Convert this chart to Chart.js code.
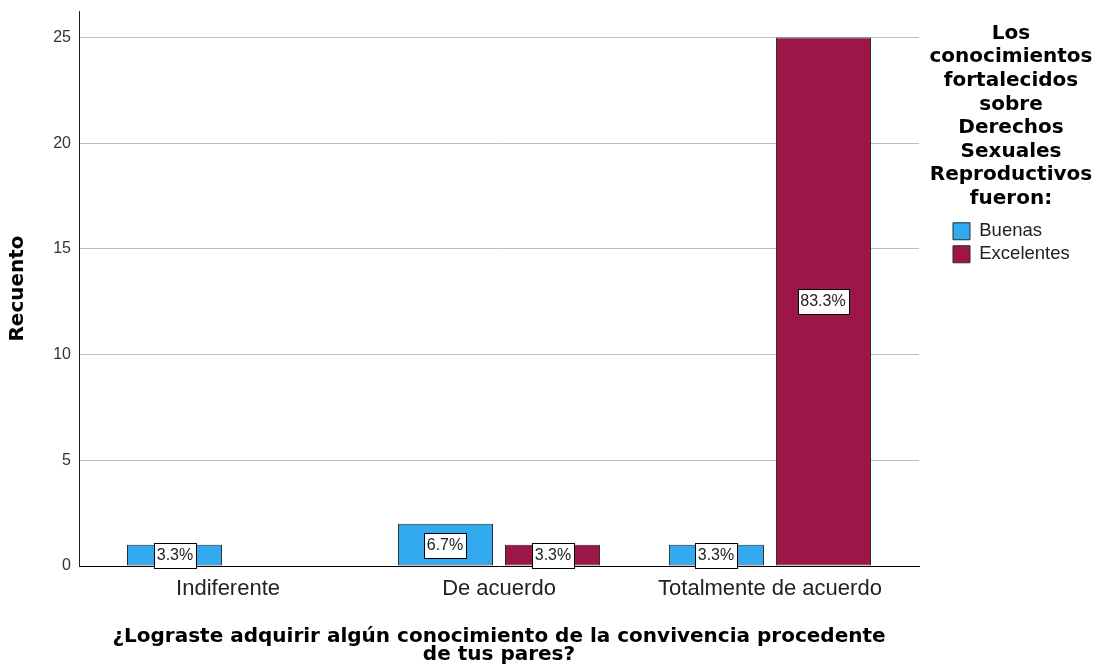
<!DOCTYPE html>
<html>
<head>
<meta charset="utf-8">
<script src="https://cdn.jsdelivr.net/npm/chart.js@4/dist/chart.umd.min.js"></script>
<style>
html,body{margin:0;padding:0;background:#fff;}
#wrap{width:1098px;height:672px;position:relative;}
</style>
</head>
<body>
<div id="wrap"><canvas id="c"></canvas></div>
<script>
// ---- data ----
const CATEGORIES = ['Indiferente', 'De acuerdo', 'Totalmente de acuerdo'];
const SERIES_NAMES = ['Buenas', 'Excelentes'];
const BUENAS = [1, 2, 1];
const EXCELENTES = [0, 1, 25];
const Y_TICKS = [0, 5, 10, 15, 20, 25];
const X_TITLE = ['¿Lograste adquirir algún conocimiento de la convivencia procedente', 'de tus pares?'];
const Y_TITLE = 'Recuento';
const LEGEND_TITLE = ['Los', 'conocimientos', 'fortalecidos', 'sobre', 'Derechos', 'Sexuales', 'Reproductivos', 'fueron:'];

// ---- styles ----
const COLORS = ['#33a9ef', '#9c1649'];
const BOLD = 'DejaVu Sans';
const REG = 'Liberation Sans';
const TOTAL = [...BUENAS, ...EXCELENTES].reduce((a, b) => a + b, 0);

const toPoints = arr => arr.map((v, i) => ({ x: i, y: v }));

const legendFix = {
  id: 'legendFix',
  beforeLayout(chart) {
    const lg = chart.legend;
    if (lg && !lg._patched) {
      const orig = lg.fit.bind(lg);
      lg.fit = function () { orig(); this.width = 179; };
      lg.draw = function () { if (this.options.display) this._draw(); };
      lg._patched = true;
    }
  },
  afterLayout(chart) {
    const lg = chart.legend;
    if (!lg) return;
    lg.left = 948.5;
    lg.width = 125;
    lg.right = lg.left + lg.width;
  }
};

const pctLabels = {
  id: 'pctLabels',
  afterDatasetsDraw(chart) {
    const ctx = chart.ctx;
    ctx.save();
    ctx.font = '16px "' + REG + '"';
    ctx.textAlign = 'center';
    ctx.textBaseline = 'middle';
    chart.data.datasets.forEach((ds, di) => {
      const meta = chart.getDatasetMeta(di);
      meta.data.forEach((el, i) => {
        const v = ds.data[i].y;
        if (!v) return;
        const txt = (v / TOTAL * 100).toFixed(1) + '%';
        const w = Math.round(ctx.measureText(txt).width + 6);
        const h = 25;
        const cx = Math.round(el.x);
        const cy = Math.round((el.y + el.base) / 2);
        const x0 = Math.round(cx - w / 2) + 0.5;
        const y0 = Math.round(cy - h / 2) + 0.5;
        ctx.fillStyle = '#ffffff';
        ctx.fillRect(x0, y0, w, h);
        ctx.strokeStyle = '#000000';
        ctx.lineWidth = 1;
        ctx.strokeRect(x0, y0, w, h);
        ctx.fillStyle = '#222222';
        ctx.fillText(txt, cx, cy + 1);
      });
    });
    ctx.restore();
  }
};

new Chart(document.getElementById('c'), {
  type: 'bar',
  data: {
    datasets: [
      { label: SERIES_NAMES[0], data: toPoints(BUENAS), backgroundColor: COLORS[0], borderColor: '#2a2a2a', borderWidth: 1, borderSkipped: false },
      { label: SERIES_NAMES[1], data: toPoints(EXCELENTES), backgroundColor: COLORS[1], borderColor: '#2a2a2a', borderWidth: 1, borderSkipped: false }
    ]
  },
  options: {
    responsive: true,
    maintainAspectRatio: false,
    animation: false,
    devicePixelRatio: 1,
    categoryPercentage: 0.79,
    barPercentage: 0.888,
    layout: { padding: { top: 11, left: 0, right: 0, bottom: 0 } },
    scales: {
      x: {
        type: 'linear',
        offset: false,
        min: -0.55,
        max: 2.55,
        grid: { display: false, drawTicks: false },
        border: { display: true, color: '#000000', width: 1 },
        afterBuildTicks(scale) { scale.ticks = CATEGORIES.map((c, i) => ({ value: i })); },
        afterFit(scale) { scale.height = 106; scale.paddingLeft = 0; scale.paddingRight = 0; },
        ticks: {
          autoSkip: false, maxRotation: 0, minRotation: 0, padding: 10,
          color: '#222222',
          font: { family: REG, size: 22 },
          callback: v => CATEGORIES[v]
        },
        title: {
          display: true, text: X_TITLE, color: '#000000',
          font: { family: BOLD, size: 20, weight: 'bold', lineHeight: 0.9 },
          padding: { top: 0, bottom: 8 }
        }
      },
      y: {
        min: 0,
        max: 26.25,
        grid: { color: '#bdbdbd', lineWidth: 1, drawTicks: false },
        border: { display: true, color: '#222222', width: 1 },
        afterBuildTicks(scale) { scale.ticks = Y_TICKS.map(v => ({ value: v })); },
        afterFit(scale) { scale.width = 79; scale.paddingTop = 0; scale.paddingBottom = 0; },
        ticks: { padding: 8, color: '#333333', font: { family: REG, size: 16 } },
        title: {
          display: true, text: Y_TITLE, color: '#000000',
          font: { family: BOLD, size: 20, weight: 'bold' },
          padding: { top: 6, bottom: 0 }
        }
      }
    },
    plugins: {
      tooltip: { enabled: false },
      legend: {
        position: 'right',
        align: 'start',
        title: {
          display: true,
          text: LEGEND_TITLE,
          color: '#000000',
          font: { family: BOLD, size: 20, weight: 'bold', lineHeight: 1.18 },
          padding: { top: 12.5, bottom: 170.4 }
        },
        labels: {
          boxWidth: 17, boxHeight: 17, padding: 4.5,
          color: '#222222',
          font: { family: REG, size: 18.5 }
        }
      }
    }
  },
  plugins: [legendFix, pctLabels]
});
</script>
</body>
</html>
